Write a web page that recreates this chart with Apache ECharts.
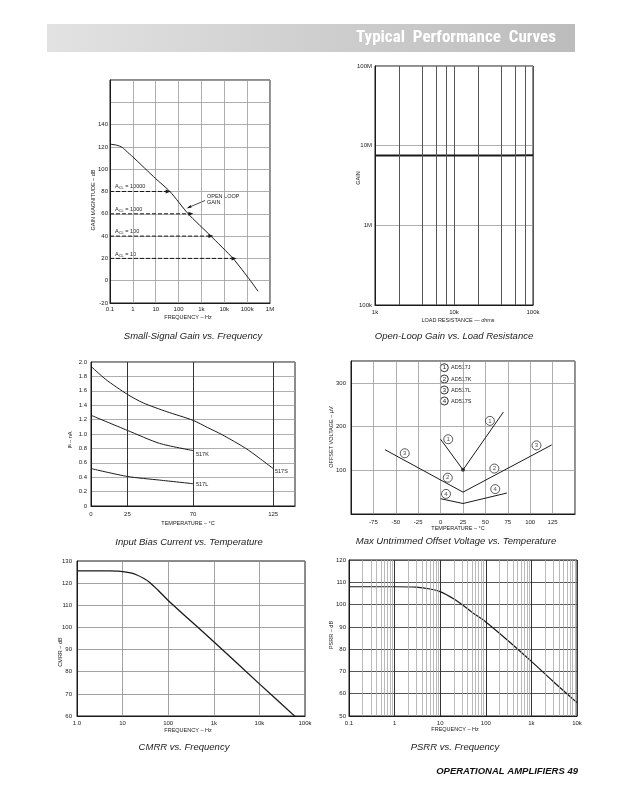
<!DOCTYPE html>
<html><head><meta charset="utf-8">
<script src="https://cdn.jsdelivr.net/npm/echarts@6/dist/echarts.min.js"></script>
<style>html,body{margin:0;padding:0;background:#fff}#c{width:618px;height:802px}</style>
</head><body><div id="c"></div>
<script>
// ---------- DATA ----------
// Chart 1: Small-Signal Gain vs. Frequency
const freq1 = [0.1, 0.2, 0.35, 0.5, 1, 10, 42, 263, 2600, 24000, 140000, 300000];
const openLoopGain = [122.5, 121.5, 119.5, 116.5, 111, 91.5, 80, 60, 40, 20, 0, -9.5];
const aclNames = ['10000', '1000', '100', '10'];
const aclGain = [80, 60, 40, 20];
const aclEndFreq = [35, 345, 2600, 27000];
const freqLabels1 = ['0.1', '1', '10', '100', '1k', '10k', '100k', '1M'];

// Chart 2: Open-Loop Gain vs. Load Resistance
const loadRes = [1000, 2000, 5000, 10000, 20000, 50000, 100000];
const olGain = [7.5e6, 7.5e6, 7.5e6, 7.5e6, 7.52e6, 7.55e6, 7.6e6];
const resGridMinor = [2000, 4000, 6000, 8000, 20000, 40000, 60000, 80000];
const resLabels = ['1k', '10k', '100k'];
const gainLabels = ['100k', '1M', '10M', '100M'];

// Chart 3: Input Bias Current vs. Temperature
const temp517S = [0, 10, 25, 36, 52, 70, 80, 90, 107, 125];
const bias517S = [1.94, 1.76, 1.55, 1.43, 1.31, 1.19, 1.09, 0.99, 0.79, 0.52];
const temp517K = [0, 25, 47, 70];
const bias517K = [1.26, 1.05, 0.87, 0.77];
const temp517L = [0, 25, 47, 70];
const bias517L = [0.52, 0.41, 0.36, 0.31];
const tempTicks3 = [0, 25, 70, 125];

// Chart 4: Max Untrimmed Offset Voltage vs. Temperature
const tempJ = [0, 25, 70];      const offJ = [171, 101, 233];
const tempKL = [-62, 25, 124];  const offKL = [147, 50, 158];
const tempS = [0, 25, 74];      const offS = [35, 24, 48];
const tagTemp = [8.5, 55, 8, 60, -40, 107, 6, 61];
const tagOff = [171, 213, 83, 104, 139, 157, 46, 57];
const tagNum = ['1', '1', '2', '2', '3', '3', '4', '4'];
const legendNames = ['AD517J', 'AD517K', 'AD517L', 'AD517S'];

// Chart 5: CMRR vs. Frequency
const freq5 = [1, 5, 8, 10, 15, 20, 30, 40, 60, 100, 1000, 10000, 63000];
const cmrr = [125.5, 125.5, 125.4, 125.2, 124.6, 123.8, 122, 120.2, 116.8, 112.2, 93.5, 74.5, 59.5];
const freqLabels5 = ['1.0', '10', '100', '1k', '10k', '100k'];

// Chart 6: PSRR vs. Frequency
const freq6 = [0.1, 1, 3, 6, 10, 20, 32, 50, 100, 300, 1000, 3000, 10000];
const psrr = [108, 108, 107.8, 107, 105.8, 102.5, 99.6, 96.5, 92.2, 84, 74.5, 65.5, 56];
const freqLabels6 = ['0.1', '1', '10', '100', '1k', '10k'];
const psrrMinorGrid = [];
[0.1, 1, 10, 100, 1000].forEach(d => { for (let k = 2; k <= 9; k++) psrrMinorGrid.push(d * k); });

// ---------- STYLE ----------
const FONT = '"Liberation Sans", Arial, sans-serif';
const INK = '#1a1a1a';
const zip = (a, b) => a.map((v, i) => [v, b[i]]);
const lab = (o) => Object.assign({ fontSize: 6, color: INK, fontFamily: FONT }, o || {});
const decIdx = (v, base) => Math.round(Math.log10(v) - Math.log10(base));
const gridLine = (c, w) => ({ show: true, lineStyle: { color: c || '#9a9a9a', width: w || 0.8, type: 'solid' } });
const axLine = { show: true, onZero: false, lineStyle: { color: INK, width: 1 } };
const vLines = (xs, color, w) => ({
  silent: true, symbol: 'none', label: { show: false },
  lineStyle: { color: color, width: w || 0.8, type: 'solid' },
  emphasis: { disabled: true },
  data: xs.map(v => ({ xAxis: v }))
});

const grids = [
  { left: 110, top: 80, width: 160, height: 223 },
  { left: 375, top: 66, width: 158, height: 239 },
  { left: 91, top: 362, width: 204, height: 144 },
  { left: 351, top: 361, width: 224, height: 153 },
  { left: 77, top: 561, width: 228, height: 155 },
  { left: 349, top: 560, width: 228, height: 156 }
].map(g => Object.assign(g, { show: true, borderColor: INK, borderWidth: 1, containLabel: false }));

const xAxes = [
  { gridIndex: 0, type: 'log', logBase: 10, min: 0.1, max: 1e6, axisLine: axLine, axisTick: { show: false },
    axisLabel: lab({ margin: 3, formatter: v => freqLabels1[decIdx(v, 0.1)] || '' }), splitLine: gridLine('#9a9a9a') },
  { gridIndex: 1, type: 'log', logBase: 10, min: 1000, max: 100000, axisLine: axLine, axisTick: { show: false },
    axisLabel: lab({ margin: 4, formatter: v => resLabels[decIdx(v, 1000)] || '' }), splitLine: gridLine('#555', 1) },
  { gridIndex: 2, type: 'value', min: 0, max: 140, interval: 5, axisLine: axLine, axisTick: { show: false },
    axisLabel: lab({ margin: 5, showMaxLabel: false, formatter: v => tempTicks3.indexOf(v) >= 0 ? String(v) : '' }), splitLine: { show: false } },
  { gridIndex: 3, type: 'value', min: -100, max: 150, interval: 25, axisLine: axLine, axisTick: { show: false },
    axisLabel: lab({ margin: 5, formatter: v => (v === -100 || v === 150) ? '' : String(v) }), splitLine: gridLine('#9a9a9a') },
  { gridIndex: 4, type: 'log', logBase: 10, min: 1, max: 1e5, axisLine: axLine, axisTick: { show: false },
    axisLabel: lab({ margin: 4, formatter: v => freqLabels5[decIdx(v, 1)] || '' }), splitLine: gridLine('#8a8a8a') },
  { gridIndex: 5, type: 'log', logBase: 10, min: 0.1, max: 1e4, axisLine: axLine, axisTick: { show: false },
    axisLabel: lab({ margin: 4, formatter: v => freqLabels6[decIdx(v, 0.1)] || '' }), splitLine: gridLine('#333', 1) }
];

const yAxes = [
  { gridIndex: 0, type: 'value', min: -20, max: 180, interval: 20, axisLine: axLine, axisTick: { show: false },
    axisLabel: lab({ margin: 2, formatter: v => v <= 140 ? String(v) : '' }), splitLine: gridLine('#9a9a9a') },
  { gridIndex: 1, type: 'log', logBase: 10, min: 1e5, max: 1e8, axisLine: axLine, axisTick: { show: false },
    axisLabel: lab({ margin: 3, formatter: v => gainLabels[decIdx(v, 1e5)] || '' }), splitLine: gridLine('#9a9a9a') },
  { gridIndex: 2, type: 'value', min: 0, max: 2, interval: 0.2, axisLine: axLine, axisTick: { show: false },
    axisLabel: lab({ margin: 4, formatter: v => v === 0 ? '0' : v.toFixed(1) }), splitLine: gridLine('#9a9a9a') },
  { gridIndex: 3, type: 'value', min: 0, max: 350, interval: 100, axisLine: axLine, axisTick: { show: false },
    axisLabel: lab({ margin: 5, formatter: v => (v === 0 || v === 350) ? '' : String(v) }), splitLine: gridLine('#9a9a9a') },
  { gridIndex: 4, type: 'value', min: 60, max: 130, interval: 10, axisLine: axLine, axisTick: { show: false },
    axisLabel: lab({ margin: 5 }), splitLine: gridLine('#8a8a8a') },
  { gridIndex: 5, type: 'value', min: 50, max: 120, interval: 10, axisLine: axLine, axisTick: { show: false },
    axisLabel: lab({ margin: 3 }), splitLine: gridLine('#555', 1) }
];

const lineBase = { type: 'line', showSymbol: false, symbol: 'none', silent: true, animation: false,
  lineStyle: { color: INK, width: 1 } };
const S = (o) => Object.assign({}, lineBase, o, { lineStyle: Object.assign({}, lineBase.lineStyle, o.lineStyle || {}) });

const series = [];
// Chart 1
series.push(S({ xAxisIndex: 0, yAxisIndex: 0, data: zip(freq1, openLoopGain), smooth: 0.2, lineStyle: { width: 1 } }));
aclGain.forEach((g, i) => {
  series.push(S({ xAxisIndex: 0, yAxisIndex: 0, showSymbol: true, symbol: 'none',
    lineStyle: { type: [4, 2], width: 1 },
    data: [ { value: [0.1, g], symbol: 'none' },
            { value: [aclEndFreq[i], g], symbol: 'triangle', symbolSize: [4, 5], symbolRotate: -90, itemStyle: { color: INK } } ] }));
});
// Chart 2
series.push(S({ xAxisIndex: 1, yAxisIndex: 1, data: zip(loadRes, olGain), lineStyle: { width: 2 },
  markLine: vLines(resGridMinor, '#555', 1) }));
// Chart 3
series.push(S({ xAxisIndex: 2, yAxisIndex: 2, data: zip(temp517S, bias517S), smooth: 0.25,
  markLine: vLines([25, 70, 125], '#333', 1) }));
series.push(S({ xAxisIndex: 2, yAxisIndex: 2, data: zip(temp517K, bias517K), smooth: 0.25 }));
series.push(S({ xAxisIndex: 2, yAxisIndex: 2, data: zip(temp517L, bias517L), smooth: 0.25 }));
// Chart 4
series.push(S({ xAxisIndex: 3, yAxisIndex: 3, data: zip(tempJ, offJ) }));
series.push(S({ xAxisIndex: 3, yAxisIndex: 3, data: zip(tempKL, offKL) }));
series.push(S({ xAxisIndex: 3, yAxisIndex: 3, data: zip(tempS, offS) }));
series.push({ type: 'scatter', xAxisIndex: 3, yAxisIndex: 3, silent: true, animation: false,
  symbolSize: 4, itemStyle: { color: INK }, data: [[tempJ[1], offJ[1]]] });
series.push({ type: 'scatter', xAxisIndex: 3, yAxisIndex: 3, silent: true, animation: false,
  symbol: 'circle', symbolSize: 9, itemStyle: { color: '#fff', borderColor: INK, borderWidth: 0.9 },
  label: { show: true, position: 'inside', fontSize: 6, color: INK, fontFamily: FONT, formatter: p => p.data[2] },
  data: tagTemp.map((t, i) => [t, tagOff[i], tagNum[i]]) });
// Chart 5
series.push(S({ xAxisIndex: 4, yAxisIndex: 4, data: zip(freq5, cmrr), smooth: 0.3, lineStyle: { width: 1.3 } }));
// Chart 6
series.push(S({ xAxisIndex: 5, yAxisIndex: 5, data: zip(freq6, psrr), smooth: 0.3, lineStyle: { width: 1.2 },
  markLine: vLines(psrrMinorGrid, '#a8a8a8', 0.8) }));

// ---------- TEXT / DECORATION ----------
const T = (x, y, text, o) => ({ type: 'text', x: x, y: y, silent: true, rotation: (o && o.rot) || 0,
  style: Object.assign({ text: text, fill: INK, fontSize: 5.5, fontFamily: FONT, align: 'center', verticalAlign: 'middle' }, (o && o.style) || {}) });
const title = (x, y, t) => T(x, y, t, { style: { fontSize: 9.5, fontStyle: 'italic', fill: '#222' } });
const vert = (x, y, t, st) => T(x, y, t, { rot: Math.PI / 2, style: st || {} });
const accl = (y, n) => T(115, y, 'A{s|CL} = ' + n, { style: { align: 'left', fontSize: 5.5,
  rich: { s: { fontSize: 4, verticalAlign: 'bottom', padding: [3, 0, 0, 0], fontFamily: FONT, fill: INK } } } });

const graphic = [
  { type: 'rect', silent: true, shape: { x: 47, y: 24, width: 528, height: 28 },
    style: { fill: new echarts.graphic.LinearGradient(0, 0, 1, 0, [
      { offset: 0, color: '#e2e2e2' }, { offset: 0.5, color: '#cfcfcf' }, { offset: 1, color: '#bcbcbc' }]) } },
  T(456, 38, 'Typical  Performance  Curves', { style: { fill: '#fff', fontSize: 17, fontWeight: 'bold',
    fontFamily: '"Liberation Sans Narrow", "Roboto Condensed", "Liberation Sans", sans-serif' } }),

  // chart 1
  vert(93, 200, 'GAIN MAGNITUDE – dB'),
  T(188, 317, 'FREQUENCY – Hz'),
  accl(186.5, aclNames[0]), accl(209, aclNames[1]), accl(231.5, aclNames[2]), accl(254, aclNames[3]),
  T(207, 196.5, 'OPEN LOOP', { style: { align: 'left' } }),
  T(207, 202.5, 'GAIN', { style: { align: 'left' } }),
  { type: 'line', silent: true, shape: { x1: 205, y1: 200.5, x2: 189, y2: 207.3 }, style: { stroke: INK, lineWidth: 0.8 } },
  { type: 'polygon', silent: true, shape: { points: [[186.5, 208.4], [190.6, 205], [191.6, 207.5]] }, style: { fill: INK } },
  title(193, 336, 'Small-Signal Gain vs. Frequency'),

  // chart 2
  vert(358, 178, 'GAIN'),
  T(458, 320, 'LOAD RESISTANCE — ohms'),
  title(454, 336, 'Open-Loop Gain vs. Load Resistance'),

  // chart 3
  vert(70, 440, 'I{s|B} – nA', { rich: { s: { fontSize: 4, fontFamily: FONT, fill: INK } } }),
  T(188, 523, 'TEMPERATURE – °C'),
  T(196, 454, '517K', { style: { align: 'left' } }),
  T(196, 484, '517L', { style: { align: 'left' } }),
  T(275, 471, '517S', { style: { align: 'left' } }),
  title(189, 542, 'Input Bias Current vs. Temperature'),

  // chart 4
  vert(331, 437, 'OFFSET VOLTAGE – µV'),
  T(458, 528, 'TEMPERATURE – °C'),
  title(456, 541, 'Max Untrimmed Offset Voltage vs. Temperature'),

  // chart 5
  vert(60, 652, 'CMRR – dB'),
  T(188, 730, 'FREQUENCY – Hz'),
  title(184, 747.5, 'CMRR vs. Frequency'),

  // chart 6
  vert(331, 635, 'PSRR – dB'),
  T(455, 729, 'FREQUENCY – Hz'),
  title(455, 747.5, 'PSRR vs. Frequency'),

  // footer
  T(578, 771, 'OPERATIONAL AMPLIFIERS 49', { style: { align: 'right', fontSize: 9.5, fontWeight: 'bold', fontStyle: 'italic', fill: '#111' } })
];
// chart 4 legend
const legY = [367.7, 379, 390, 401];
legendNames.forEach((n, i) => {
  graphic.push({ type: 'circle', silent: true, shape: { cx: 444.3, cy: legY[i], r: 4 }, style: { fill: '#fff', stroke: INK, lineWidth: 0.9 } });
  graphic.push(T(444.3, legY[i], String(i + 1), { style: { fontSize: 6 } }));
  graphic.push(T(451, legY[i], n, { style: { align: 'left', fontSize: 5.5 } }));
});

const chart = echarts.init(document.getElementById('c'), null, { renderer: 'canvas' });
chart.setOption({
  backgroundColor: '#fff',
  animation: false,
  grid: grids,
  xAxis: xAxes,
  yAxis: yAxes,
  series: series,
  graphic: graphic
});
</script></body></html>
